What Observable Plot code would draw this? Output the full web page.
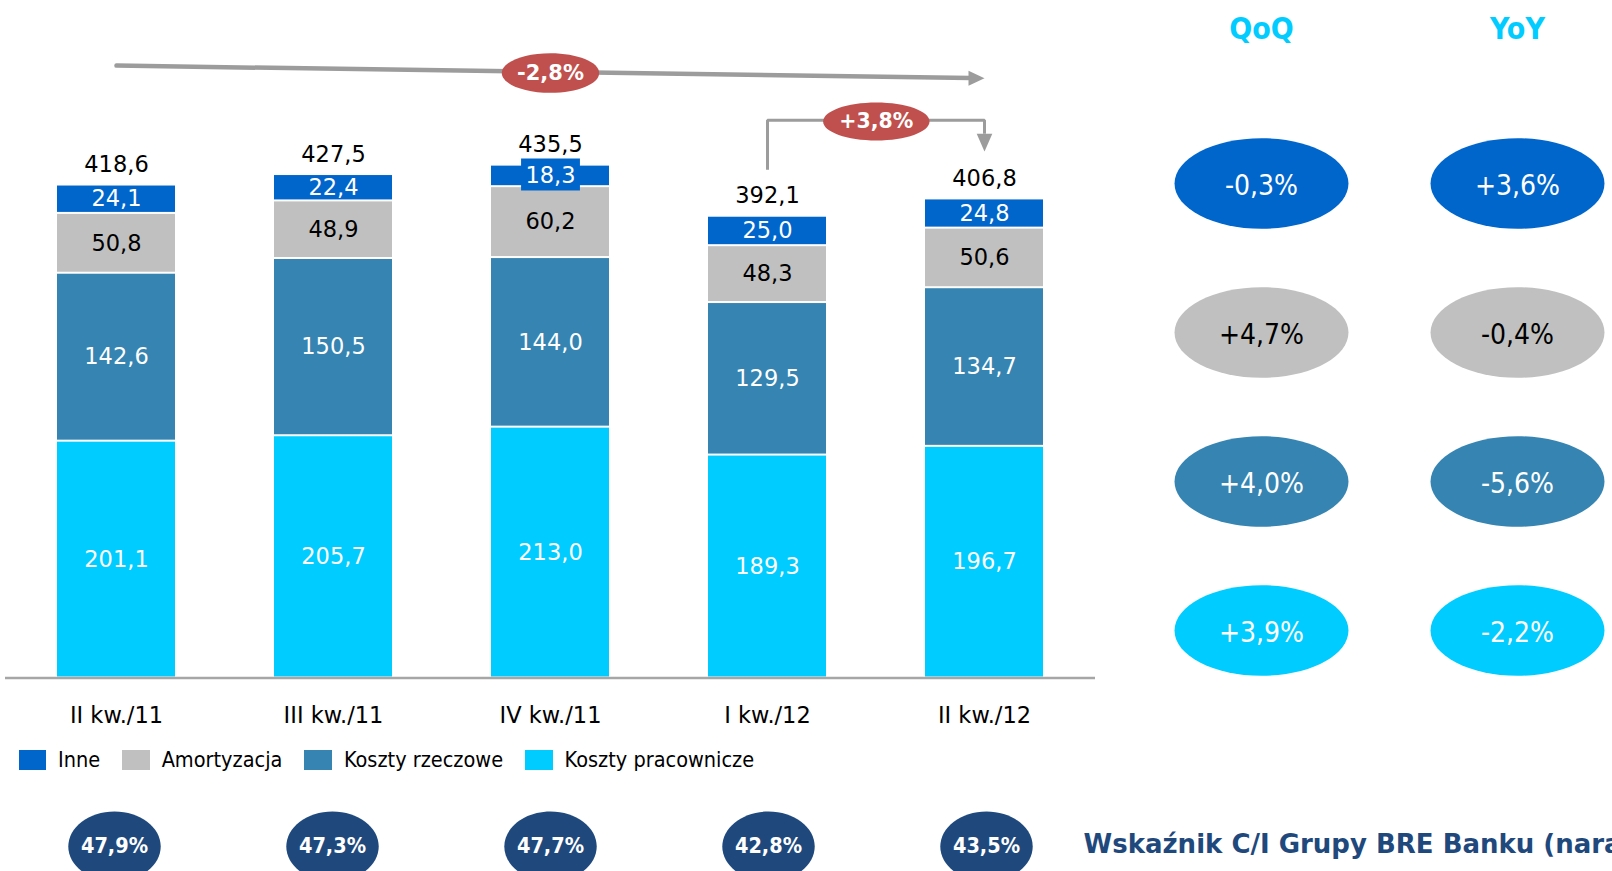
<!DOCTYPE html>
<html>
<head>
<meta charset="utf-8">
<script src="https://cdn.jsdelivr.net/npm/d3@7"></script>
<script src="https://cdn.jsdelivr.net/npm/@observablehq/plot@0.6"></script>
<style>
  html, body { margin: 0; padding: 0; background: #fff; }
  #root { position: relative; width: 1612px; height: 871px; overflow: hidden; font-family: "DejaVu Sans", sans-serif; }
  g[font-family*="Condensed"], text[font-family*="Condensed"] { font-stretch: condensed; }
</style>
</head>
<body>
<div id="root"></div>
<script>
// ---------- DATA ----------
const categories = ["II kw./11", "III kw./11", "IV kw./11", "I kw./12", "II kw./12"];
const seriesNames = ["Inne", "Amortyzacja", "Koszty rzeczowe", "Koszty pracownicze"];
const seriesColors = ["#0066CC", "#C0C0C0", "#3584B2", "#00CCFF"];
const kosztyPracownicze = [201.1, 205.7, 213.0, 189.3, 196.7];
const kosztyRzeczowe = [142.6, 150.5, 144.0, 129.5, 134.7];
const amortyzacja = [50.8, 48.9, 60.2, 48.3, 50.6];
const inne = [24.1, 22.4, 18.3, 25.0, 24.8];
const totals = [418.6, 427.5, 435.5, 392.1, 406.8];
const ciRatio = ["47,9%", "47,3%", "47,7%", "42,8%", "43,5%"];
const changeColumns = ["QoQ", "YoY"];
const qoq = ["-0,3%", "+4,7%", "+4,0%", "+3,9%"];   // Inne, Amortyzacja, Koszty rzeczowe, Koszty pracownicze
const yoy = ["+3,6%", "-0,4%", "-5,6%", "-2,2%"];
const trendLabel = "-2,8%";
const lastQoqLabel = "+3,8%";
const ciTitle = "Wskaźnik C/I Grupy BRE Banku (narastająco)";

// ---------- helpers ----------
const fmt = v => v.toFixed(1).replace(".", ",");
const FONT = '"DejaVu Sans", sans-serif';
const FONT_C = '"DejaVu Sans Condensed", "DejaVu Sans", sans-serif';
const root = document.getElementById("root");
function place(el, left, topPx) {
  const d = document.createElement("div");
  d.style.position = "absolute"; d.style.left = left + "px"; d.style.top = topPx + "px";
  d.appendChild(el); root.appendChild(d);
}
function ellipseSymbol(aspect) {
  const k = 0.5522847;
  return {draw(ctx, size) {
    const ry = Math.sqrt(size / Math.PI), rx = ry * aspect;
    ctx.moveTo(rx, 0);
    ctx.bezierCurveTo(rx, ry * k, rx * k, ry, 0, ry);
    ctx.bezierCurveTo(-rx * k, ry, -rx, ry * k, -rx, 0);
    ctx.bezierCurveTo(-rx, -ry * k, -rx * k, -ry, 0, -ry);
    ctx.bezierCurveTo(rx * k, -ry, rx, -ry * k, rx, 0);
    ctx.closePath();
  }};
}
function rectSymbol(aspect) {
  return {draw(ctx, size) {
    const h = Math.sqrt(size / Math.PI), w = h * aspect;
    ctx.moveTo(-w, -h); ctx.lineTo(w, -h); ctx.lineTo(w, h); ctx.lineTo(-w, h); ctx.closePath();
  }};
}
function arrowRight(ratio) {
  return {draw(ctx, size) {
    const r = Math.sqrt(size / Math.PI), L = r * ratio;
    ctx.moveTo(0, 0); ctx.lineTo(-L, -r); ctx.lineTo(-L, r); ctx.closePath();
  }};
}
function arrowDown(ratio) {
  return {draw(ctx, size) {
    const r = Math.sqrt(size / Math.PI), L = r * ratio;
    ctx.moveTo(0, 0); ctx.lineTo(-r, -L); ctx.lineTo(r, -L); ctx.closePath();
  }};
}

// ---------- tables built from the arrays ----------
const stackOrder = [
  ["Koszty pracownicze", kosztyPracownicze],
  ["Koszty rzeczowe", kosztyRzeczowe],
  ["Amortyzacja", amortyzacja],
  ["Inne", inne]
];
const rows = [];
categories.forEach((c, i) => {
  let base = 0;
  for (const [s, vals] of stackOrder) {
    rows.push({cat: c, series: s, value: vals[i], mid: base + vals[i] / 2});
    base += vals[i];
  }
});
const totalRows = categories.map((c, i) => ({cat: c, total: totals[i]}));
const ciRows = categories.map((c, i) => ({cat: c, label: ciRatio[i]}));
const changeRows = [];
seriesNames.forEach((s, i) => {
  changeRows.push({col: "QoQ", series: s, label: qoq[i]});
  changeRows.push({col: "YoY", series: s, label: yoy[i]});
});

// annotation anchors (data space)
const maxTotal = d3.max(totals);
const n = categories.length;
const trend = {x1: categories[0], y1: maxTotal + 84.5, x2: categories[n - 1], y2: maxTotal + 73.7};
const trendBadge = {cat: categories[2], y: maxTotal + 78.2, label: trendLabel};
const bracketY = maxTotal + 38;
const bracket = [
  {cat: categories[n - 2], y: totals[n - 2] + 39.4},
  {cat: categories[n - 2], y: bracketY},
  {cat: categories[n - 1], y: bracketY},
  {cat: categories[n - 1], y: totals[n - 1] + 55.4}
];
const bracketEnd = {cat: categories[n - 1], y: totals[n - 1] + 40.3};
const bracketBadge = {cat: categories[n - 2], y: bracketY - 1, label: lastQoqLabel};

// ---------- layout ----------
const W = 1100, H = 740, ML = 5, MR = 5, MT = 18, MB = 62.5;
const padIn = 0.455, padOut = 0.232, YMAX = 560;
const step = (W - ML - MR) / (n - padIn + 2 * padOut);
const color = {domain: seriesNames, range: seriesColors};
const xScale = {domain: categories, paddingInner: padIn, paddingOuter: padOut, axis: null};
const ARROW = "#9C9C9C";

const main = Plot.plot({
  width: W, height: H, marginLeft: ML, marginRight: MR, marginTop: MT, marginBottom: MB,
  style: {fontFamily: FONT, background: "transparent", overflow: "visible"},
  x: xScale,
  y: {domain: [0, YMAX], axis: null},
  color,
  marks: [
    Plot.barY(rows, Plot.stackY({x: "cat", y: "value", fill: "series", insetTop: 1, insetBottom: 1})),
    Plot.ruleY([0], {stroke: "#A6A6A6", strokeWidth: 2.5}),
    Plot.dot(rows.filter(d => d.series === "Inne" && d.value < 20),
      {x: "cat", y: "mid", symbol: rectSymbol(1.84), r: 16, fill: "#0066CC", stroke: "none", dy: -1.5}),
    Plot.text(rows.filter(d => d.series !== "Amortyzacja"),
      {x: "cat", y: "mid", text: d => fmt(d.value), fill: "white", fontSize: 22.5}),
    Plot.text(rows.filter(d => d.series === "Amortyzacja"),
      {x: "cat", y: "mid", text: d => fmt(d.value), fill: "black", fontSize: 22.5}),
    Plot.text(totalRows, {x: "cat", y: "total", text: d => fmt(d.total), dy: -20, fill: "black", fontSize: 22.5}),
    Plot.text(categories, {x: d => d, text: d => d, frameAnchor: "bottom", lineAnchor: "middle", dy: 38,
      fontSize: 22.5, fill: "black"}),
    // trend arrow
    Plot.arrow([trend], {x1: "x1", y1: "y1", x2: "x2", y2: "y2", bend: 0, headLength: 0, insetEnd: 14,
      stroke: ARROW, strokeWidth: 4.5}),
    Plot.dot([trend], {x: "x2", y: "y2", symbol: arrowRight(2.13), r: 7.5, fill: ARROW, stroke: "none"}),
    // bracket arrow
    Plot.line(bracket, {x: "cat", y: "y", stroke: ARROW, strokeWidth: 3, strokeLinejoin: "miter", strokeLinecap: "butt"}),
    Plot.dot([bracketEnd], {x: "cat", y: "y", symbol: arrowDown(2.27), r: 7.8, fill: ARROW, stroke: "none"}),
    // badges
    Plot.dot([trendBadge], {x: "cat", y: "y", symbol: ellipseSymbol(2.46), r: 19.8, fill: "#C0504D", stroke: "none"}),
    Plot.text([trendBadge], {x: "cat", y: "y", text: "label", fill: "white", fontWeight: "bold", fontSize: 21, dy: 0.5}),
    Plot.dot([bracketBadge], {x: "cat", y: "y", dx: step / 2, symbol: ellipseSymbol(2.8), r: 19, fill: "#C0504D", stroke: "none"}),
    Plot.text([bracketBadge], {x: "cat", y: "y", dx: step / 2, text: "label", fill: "white", fontWeight: "bold", fontSize: 20.5, dy: -0.5})
  ]
});
place(main, 0, 0);

// ---------- legend ----------
const legend = document.createElement("div");
legend.style.cssText = `display:flex;align-items:center;font-family:${FONT_C};font-stretch:condensed;font-size:21.5px;color:#000;line-height:24px;white-space:nowrap;`;
seriesNames.forEach((s, i) => {
  const item = document.createElement("div");
  item.style.cssText = "display:flex;align-items:center;margin-right:22px;";
  const sw = document.createElement("span");
  sw.style.cssText = `display:inline-block;width:27.5px;height:20.5px;background:${seriesColors[i]};margin-right:12px;`;
  item.append(sw, document.createTextNode(s));
  legend.append(item);
});
place(legend, 18.5, 748);

// ---------- QoQ / YoY panel ----------
const side = Plot.plot({
  width: 512, height: 700, marginLeft: 161, marginRight: 95, marginTop: 182, marginBottom: 70,
  style: {fontFamily: FONT, background: "transparent", overflow: "visible"},
  x: {type: "point", domain: changeColumns, padding: 0, axis: null},
  y: {type: "point", domain: seriesNames, padding: 0, axis: null},
  color,
  marks: [
    Plot.text(changeColumns, {x: d => d, text: d => d, frameAnchor: "top", lineAnchor: "middle", dy: -153,
      fill: "#00CCFF", fontWeight: "bold", fontSize: 30, fontFamily: FONT_C}),
    Plot.dot(changeRows, {x: "col", y: "series", fill: "series", symbol: ellipseSymbol(1.92), r: 45.3, stroke: "none"}),
    Plot.text(changeRows.filter(d => d.series !== "Amortyzacja"),
      {x: "col", y: "series", text: "label", fill: "white", fontSize: 28, fontFamily: FONT_C, dy: 2.5}),
    Plot.text(changeRows.filter(d => d.series === "Amortyzacja"),
      {x: "col", y: "series", text: "label", fill: "black", fontSize: 28, fontFamily: FONT_C, dy: 2.5})
  ]
});
place(side, 1100, 0);

// ---------- C/I row ----------
const ci = Plot.plot({
  width: 1612, height: 72, marginLeft: ML, marginRight: 1612 - (W - MR), marginTop: 0, marginBottom: 0,
  style: {fontFamily: FONT, background: "transparent"},
  x: xScale,
  marks: [
    Plot.dot(ciRows, {x: "cat", symbol: ellipseSymbol(1.32), r: 35, fill: "#1F497D", stroke: "none"}),
    Plot.text(ciRows, {x: "cat", text: "label", fill: "white", fontWeight: "bold", fontSize: 21.5, fontFamily: FONT_C}),
    Plot.text([ciTitle], {frameAnchor: "right", textAnchor: "start", lineAnchor: "middle", dx: -12, dy: -1.5, text: d => d,
      fill: "#1F497D", fontWeight: "bold", fontSize: 26})
  ]
});
place(ci, 0, 810);
</script>
</body>
</html>
